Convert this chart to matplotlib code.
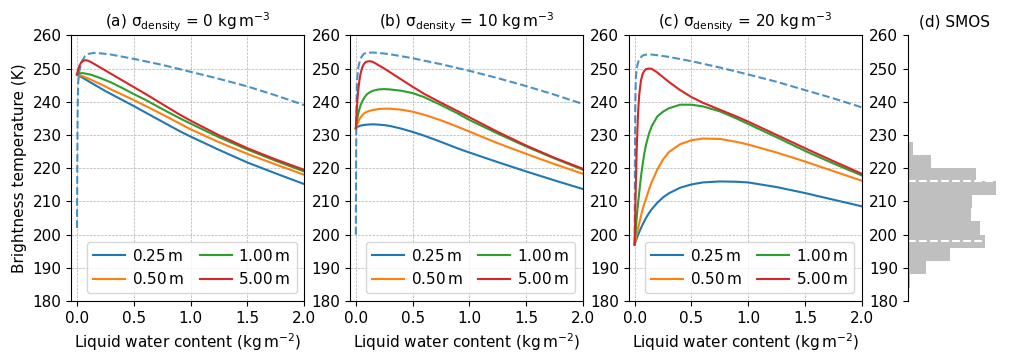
import matplotlib
matplotlib.use("Agg")
import matplotlib.pyplot as plt

plt.rcParams['mathtext.default'] = 'regular'

# liquid water content grid (kg m-2) at which the curves were read
lwc = [0, 0.005, 0.01, 0.015, 0.02, 0.03, 0.04, 0.055, 0.07, 0.085, 0.1, 0.125,
       0.15, 0.2, 0.25, 0.3, 0.4, 0.5, 0.6, 0.75, 0.9, 1.0, 1.25, 1.5, 1.75, 2.0]
lwc_dash = [0, 0.003, 0.006, 0.01, 0.02, 0.04, 0.07, 0.1, 0.15, 0.2, 0.3,
            0.5, 0.75, 1.0, 1.25, 1.5, 1.75, 2.0]

depth_labels = ['0.25$\\,$m', '0.50$\\,$m', '1.00$\\,$m', '5.00$\\,$m']

# (a) sigma_density = 0
tb_a_025 = [248.2, 248.1, 248.0, 247.9, 247.8, 247.6, 247.4, 247.1, 246.8, 246.5,
            246.2, 245.7, 245.2, 244.2, 243.2, 242.3, 240.5, 238.7, 236.8, 234.0,
            231.2, 229.5, 225.5, 221.7, 218.4, 215.2]
tb_a_050 = [248.2, 248.15, 248.1, 248.05, 248.0, 247.9, 247.8, 247.6, 247.4, 247.2,
            247.0, 246.6, 246.2, 245.4, 244.6, 243.7, 242.1, 240.5, 238.8, 236.2,
            233.5, 231.7, 227.8, 224.3, 221.1, 218.0]
tb_a_100 = [248.2, 248.3, 248.4, 248.45, 248.5, 248.55, 248.6, 248.6, 248.5, 248.4,
            248.3, 248.1, 247.8, 247.2, 246.5, 245.8, 244.1, 242.3, 240.6, 237.8,
            235.1, 233.4, 229.3, 225.6, 222.2, 219.0]
tb_a_500 = [248.2, 249.0, 249.6, 250.2, 250.7, 251.4, 251.9, 252.3, 252.5, 252.45,
            252.3, 251.9, 251.4, 250.4, 249.4, 248.4, 246.4, 244.4, 242.4, 239.3,
            236.2, 234.3, 229.9, 226.0, 222.6, 219.5]
tb_a_dash = [202.0, 225.0, 238.0, 245.5, 249.2, 252.0, 253.7, 254.4, 254.7, 254.6,
             254.2, 252.9, 251.1, 249.0, 246.9, 244.6, 241.9, 239.0]

# (b) sigma_density = 10
tb_b_025 = [232.0, 232.15, 232.3, 232.4, 232.5, 232.65, 232.8, 232.9, 233.0, 233.05,
            233.1, 233.15, 233.2, 233.1, 232.95, 232.7, 231.9, 230.9, 229.8, 227.9,
            225.9, 224.7, 221.8, 219.0, 216.3, 213.7]
tb_b_050 = [232.0, 232.5, 233.0, 233.5, 233.9, 234.6, 235.2, 235.9, 236.4, 236.75,
            237.0, 237.3, 237.5, 237.8, 237.9, 237.9, 237.6, 237.0, 236.1, 234.4,
            232.4, 231.0, 227.5, 224.3, 221.2, 218.3]
tb_b_100 = [232.0, 233.2, 234.3, 235.3, 236.2, 237.6, 238.8, 240.0, 241.0, 241.7,
            242.3, 242.9, 243.3, 243.7, 243.8, 243.7, 243.3, 242.6, 241.4, 239.0,
            236.4, 234.5, 230.4, 226.5, 222.9, 219.5]
tb_b_500 = [232.0, 235.5, 238.5, 241.0, 243.0, 246.0, 248.2, 250.2, 251.3, 251.9,
            252.1, 252.2, 252.0, 251.0, 250.0, 248.9, 246.7, 244.5, 242.4, 239.7,
            237.1, 235.3, 230.9, 226.8, 223.1, 219.8]
tb_b_dash = [200.0, 226.0, 239.0, 246.0, 250.0, 253.0, 254.4, 254.8, 254.8, 254.7,
             254.3, 253.1, 251.3, 249.3, 247.1, 244.7, 242.1, 239.3]

# (c) sigma_density = 20
tb_c_025 = [197.0, 197.5, 198.0, 198.5, 199.0, 199.9, 200.7, 201.9, 203.0, 204.0,
            205.0, 206.4, 207.6, 209.6, 211.2, 212.4, 214.1, 215.1, 215.7, 216.0,
            215.9, 215.7, 214.3, 212.5, 210.5, 208.5]
tb_c_050 = [197.0, 197.9, 198.8, 199.7, 200.6, 202.0, 203.3, 205.5, 207.5, 209.3,
            210.8, 213.5, 215.8, 219.6, 222.6, 224.8, 227.2, 228.4, 228.9, 228.8,
            227.9, 227.1, 224.7, 222.0, 219.1, 216.2]
tb_c_100 = [197.0, 199.3, 201.5, 203.7, 205.8, 209.4, 212.5, 217.3, 221.0, 224.4,
            227.0, 230.3, 232.6, 235.6, 237.0, 238.0, 239.1, 239.1, 238.6, 237.1,
            234.9, 233.3, 229.3, 225.2, 221.4, 217.8]
tb_c_500 = [197.0, 205.5, 214.0, 221.5, 227.5, 236.5, 242.0, 246.3, 248.3, 249.3,
            249.8, 250.0, 249.9, 248.8, 247.4, 246.0, 243.5, 241.4, 239.7, 237.6,
            235.5, 234.0, 230.0, 226.0, 222.1, 218.3]
tb_c_dash = [197.0, 225.0, 240.0, 247.0, 250.5, 252.8, 253.9, 254.2, 254.2, 254.0,
             253.5, 252.2, 250.3, 248.2, 246.0, 243.5, 241.0, 238.3]

panels = [
    ('(a) $\\sigma_{density}$ = 0 kg$\\,$m$^{-3}$',
     [tb_a_025, tb_a_050, tb_a_100, tb_a_500], tb_a_dash),
    ('(b) $\\sigma_{density}$ = 10 kg$\\,$m$^{-3}$',
     [tb_b_025, tb_b_050, tb_b_100, tb_b_500], tb_b_dash),
    ('(c) $\\sigma_{density}$ = 20 kg$\\,$m$^{-3}$',
     [tb_c_025, tb_c_050, tb_c_100, tb_c_500], tb_c_dash),
]

# (d) SMOS histogram (4 K bins, relative counts)
smos_bin_lo = [184, 188, 192, 196, 200, 204, 208, 212, 216, 220, 224]
smos_counts = [7, 55, 125, 232, 217, 190, 193, 265, 203, 68, 17]
smos_lines = [216, 198]

fig = plt.figure(figsize=(10.09, 3.62), dpi=100)
gs = fig.add_gridspec(1, 4, width_ratios=[1, 1, 1, 0.4], left=0.0707,
                      right=0.992, bottom=0.1685, top=0.9025, wspace=0.232)

for i, (title, curves, dash) in enumerate(panels):
    ax = fig.add_subplot(gs[0, i])
    ax.plot(lwc_dash, dash, '--', color='C0', alpha=0.8, lw=1.5)
    for j, tb in enumerate(curves):
        ax.plot(lwc, tb, color='C%d' % j, lw=1.5, label=depth_labels[j])
    ax.set_xlim(-0.05, 2.0)
    ax.set_ylim(180, 260)
    ax.set_xticks([0, 0.5, 1.0, 1.5, 2.0])
    ax.set_yticks(range(180, 261, 10))
    ax.grid(True, linestyle='--', linewidth=0.5, color='#b0b0b0')
    ax.set_title(title, fontsize=11)
    ax.set_xlabel('Liquid water content (kg$\\,$m$^{-2}$)', fontsize=11)
    if i == 0:
        ax.set_ylabel('Brightness temperature (K)', fontsize=11)
    ax.tick_params(labelsize=11)
    ax.legend(loc='lower right', ncol=2, fontsize=11, handlelength=2.1,
              handletextpad=0.45, columnspacing=1.0, borderpad=0.4)

axd = fig.add_subplot(gs[0, 3])
axd.barh(smos_bin_lo, smos_counts, height=4, align='edge', color='grey', alpha=0.5)
for v in smos_lines:
    axd.axhline(v, color='white', linestyle='--', lw=1.5)
axd.set_ylim(180, 260)
axd.set_xlim(0, max(smos_counts) * 1.05)
axd.set_yticks(range(180, 261, 10))
axd.tick_params(labelsize=11)
axd.set_xticks([])
for s in ['top', 'right', 'bottom']:
    axd.spines[s].set_visible(False)
axd.set_title('(d) SMOS', fontsize=11)

fig.savefig('out.png', dpi=100)
